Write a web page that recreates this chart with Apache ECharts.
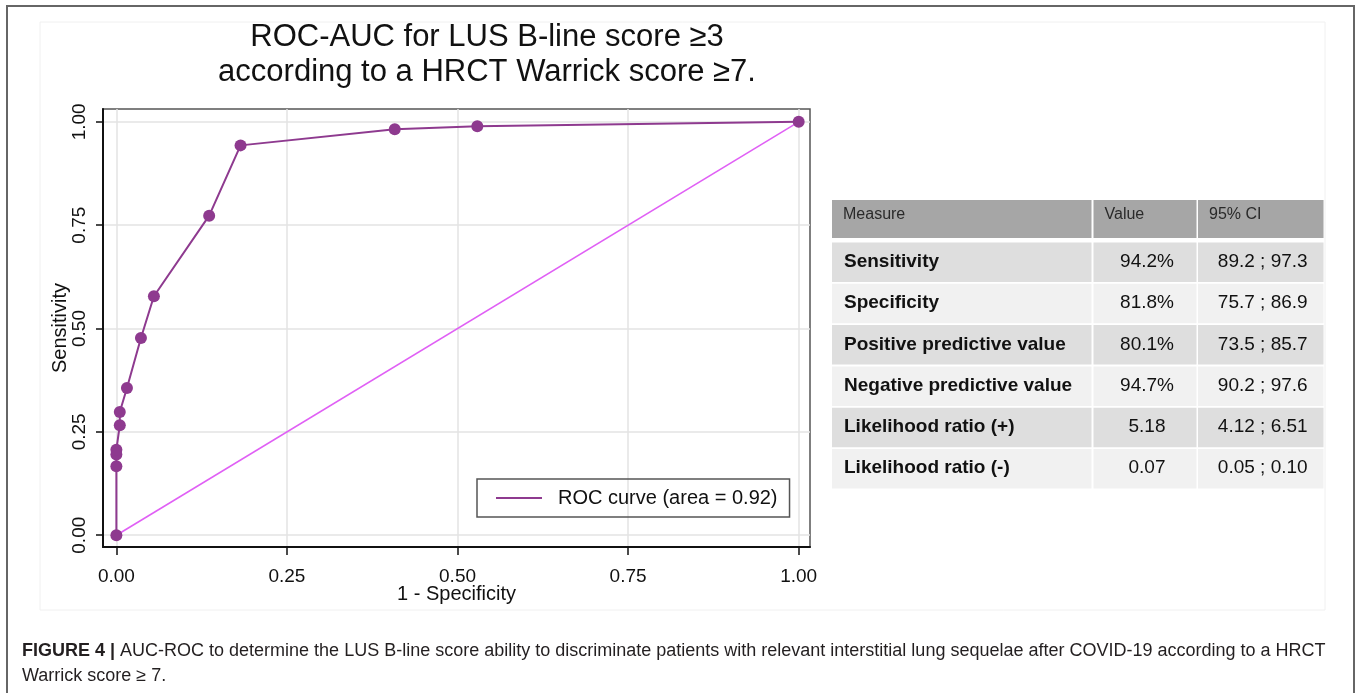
<!DOCTYPE html>
<html>
<head>
<meta charset="utf-8">
<script src="https://cdn.jsdelivr.net/npm/echarts@6/dist/echarts.min.js"></script>
<style>
html,body{margin:0;padding:0;background:#fff;}
#chart{width:1357px;height:693px;}
</style>
</head>
<body>
<div id="chart"></div>
<script>
// ---- Data ----
var fpr = [0, 0, 0, 0, 0.005, 0.005, 0.0155, 0.036, 0.055, 0.136, 0.182, 0.408, 0.529, 1];
var tpr = [0, 0.167, 0.195, 0.207, 0.266, 0.298, 0.356, 0.477, 0.578, 0.773, 0.943, 0.982, 0.989, 1];
var refX = [0, 1];
var refY = [0, 1];
var tickValues = [0, 0.25, 0.5, 0.75, 1];
var legendLabel = 'ROC curve (area = 0.92)';
var titleLines = ['ROC-AUC for LUS B-line score \u22653', 'according to a HRCT Warrick score \u22657.'];
var tableHeaders = ['Measure', 'Value', '95% CI'];
var measures = ['Sensitivity', 'Specificity', 'Positive predictive value', 'Negative predictive value', 'Likelihood ratio (+)', 'Likelihood ratio (-)'];
var measureValues = ['94.2%', '81.8%', '80.1%', '94.7%', '5.18', '0.07'];
var measureCIs = ['89.2 ; 97.3', '75.7 ; 86.9', '73.5 ; 85.7', '90.2 ; 97.6', '4.12 ; 6.51', '0.05 ; 0.10'];
var captionBold = 'FIGURE 4 |';
var captionLine1 = ' AUC-ROC to determine the LUS B-line score ability to discriminate patients with relevant interstitial lung sequelae after COVID-19 according to a HRCT';
var captionLine2 = 'Warrick score \u2265 7.';

// ---- Build ----
var FONT = '"Liberation Sans", Arial, Helvetica, sans-serif';
var rocData = fpr.map(function (x, i) { return [x, tpr[i]]; });
var refData = refX.map(function (x, i) { return [x, refY[i]]; });

var graphics = [];
// outer frame
graphics.push({ type: 'rect', shape: { x: 7, y: 6, width: 1347, height: 720 }, style: { fill: 'none', stroke: '#666', lineWidth: 2 }, silent: true, z: -10 });
// faint inner panel
graphics.push({ type: 'rect', shape: { x: 40, y: 22, width: 1285, height: 588 }, style: { fill: 'none', stroke: '#f0f0f0', lineWidth: 1 }, silent: true, z: -10 });

// table
var colX = [832, 1093.5, 1198];
var colW = [259.5, 103, 125.5];
var headerY = 200, headerH = 38;
var rowY0 = 242.5, rowStep = 41.3, rowH = 39.5;
tableHeaders.forEach(function (h, c) {
  graphics.push({ type: 'rect', shape: { x: colX[c], y: headerY, width: colW[c], height: headerH }, style: { fill: '#a6a6a6' }, silent: true });
  graphics.push({ type: 'text', x: colX[c] + 11, y: headerY + 15, style: { text: h, fill: '#2a2a2a', font: '16px ' + FONT, textVerticalAlign: 'middle' }, silent: true });
});
measures.forEach(function (m, r) {
  var y = rowY0 + r * rowStep;
  var fill = (r % 2 === 0) ? '#dedede' : '#f1f1f1';
  for (var c = 0; c < 3; c++) {
    graphics.push({ type: 'rect', shape: { x: colX[c], y: y, width: colW[c], height: rowH }, style: { fill: fill }, silent: true });
  }
  var cy = y + rowH / 2 - 0.5;
  graphics.push({ type: 'text', x: colX[0] + 12, y: cy, style: { text: m, fill: '#111', font: 'bold 19px ' + FONT, textVerticalAlign: 'middle' }, silent: true });
  graphics.push({ type: 'text', x: colX[1] + colW[1] / 2 + 2, y: cy, style: { text: measureValues[r], fill: '#111', font: '19px ' + FONT, textAlign: 'center', textVerticalAlign: 'middle' }, silent: true });
  graphics.push({ type: 'text', x: colX[2] + colW[2] / 2 + 2, y: cy, style: { text: measureCIs[r], fill: '#111', font: '19px ' + FONT, textAlign: 'center', textVerticalAlign: 'middle' }, silent: true });
});

// caption
graphics.push({
  type: 'text', x: 22, y: 651,
  style: {
    text: '{b|' + captionBold + '}{n|' + captionLine1 + '}',
    rich: { b: { font: 'bold 18px ' + FONT, fill: '#231f20' }, n: { font: '18px ' + FONT, fill: '#231f20' } },
    textVerticalAlign: 'middle'
  }, silent: true
});
graphics.push({ type: 'text', x: 22, y: 676, style: { text: captionLine2, font: '18px ' + FONT, fill: '#231f20', textVerticalAlign: 'middle' }, silent: true });

var chart = echarts.init(document.getElementById('chart'), null, { renderer: 'canvas' });
chart.setOption({
  backgroundColor: '#fff',
  animation: false,
  textStyle: { fontFamily: FONT },
  title: {
    text: titleLines.join('\n'),
    left: 487, textAlign: 'center', top: 20, padding: 0,
    textStyle: { fontSize: 31, fontWeight: 'normal', lineHeight: 35, color: '#111', fontFamily: FONT }
  },
  legend: {
    data: [legendLabel],
    left: 477, top: 479,
    orient: 'horizontal',
    icon: 'rect', itemWidth: 46, itemHeight: 2,
    padding: [9, 12, 9, 19],
    borderColor: '#555', borderWidth: 1.5,
    textStyle: { fontSize: 20, color: '#111', fontFamily: FONT, padding: [0, 0, 0, 11] }
  },
  grid: {
    left: 103, top: 109, width: 707, height: 438,
    show: true, borderColor: '#555', borderWidth: 1.5, backgroundColor: 'transparent'
  },
  xAxis: {
    type: 'value', min: -0.0196, max: 1.0166,
    name: '1 - Specificity', nameLocation: 'middle', nameGap: 37, nameMoveOverlap: false,
    nameTextStyle: { fontSize: 20, color: '#111', fontFamily: FONT },
    axisLine: { show: true, onZero: false, lineStyle: { color: '#111', width: 2 } },
    axisTick: { show: true, length: 8, customValues: tickValues, lineStyle: { color: '#111', width: 1.5 } },
    axisLabel: { customValues: tickValues, fontSize: 19, color: '#111', margin: 20, formatter: function (v) { return v.toFixed(2); } },
    splitLine: { show: true, lineStyle: { color: '#e3e3e3', width: 1.5 } }
  },
  yAxis: {
    type: 'value', min: -0.0285, max: 1.031,
    name: 'Sensitivity', nameLocation: 'middle', nameGap: 33, nameMoveOverlap: false,
    nameTextStyle: { fontSize: 20, color: '#111', fontFamily: FONT },
    axisLine: { show: true, onZero: false, lineStyle: { color: '#111', width: 2 } },
    axisTick: { show: true, length: 7, customValues: tickValues, lineStyle: { color: '#111', width: 1.5 } },
    axisLabel: { customValues: tickValues, fontSize: 19, color: '#111', margin: 14, rotate: 90, formatter: function (v) { return v.toFixed(2); } },
    splitLine: { show: true, lineStyle: { color: '#e3e3e3', width: 1.5 } }
  },
  series: [
    {
      name: 'reference', type: 'line', data: refData,
      symbol: 'none', lineStyle: { color: '#e060f5', width: 1.6 }, itemStyle: { color: '#e060f5' },
      z: 2, silent: true
    },
    {
      name: legendLabel, type: 'line', data: rocData,
      symbol: 'circle', symbolSize: 12,
      lineStyle: { color: '#8e3a8f', width: 2 }, itemStyle: { color: '#8e3a8f' },
      z: 3, clip: false
    }
  ],
  graphic: graphics
});
</script>
</body>
</html>
